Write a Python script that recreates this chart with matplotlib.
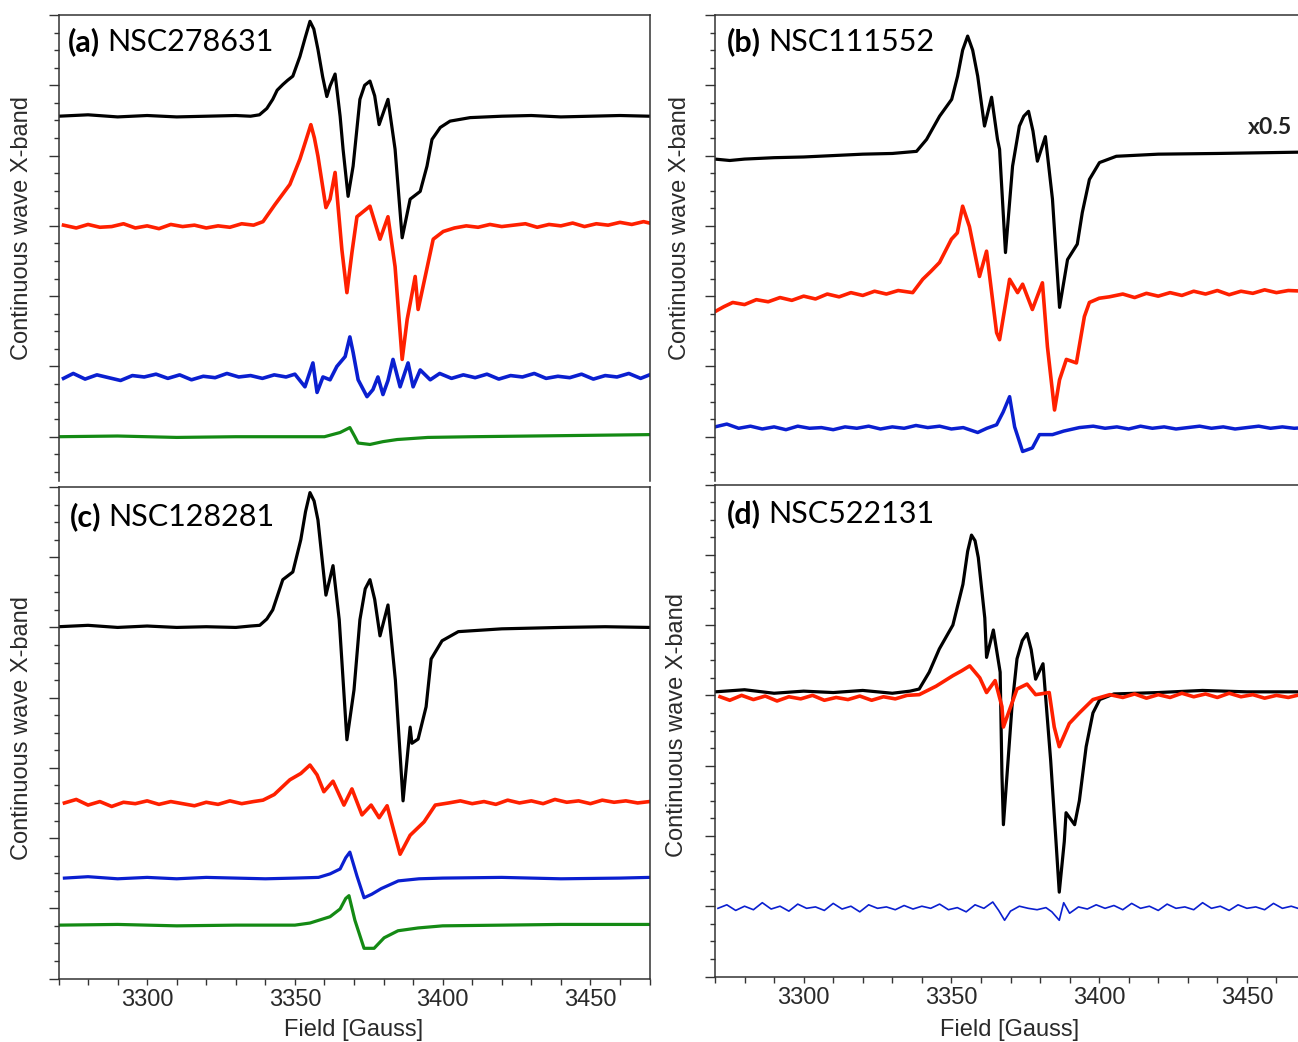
import numpy as np
import matplotlib
matplotlib.use("Agg")
import matplotlib.pyplot as plt
from matplotlib.ticker import MultipleLocator

W, H = 1298, 1042

# (field [G], signal) pairs; signal in units of one major y tick
a_black = [(3270, 4.56), (3280, 4.58), (3290, 4.55), (3300, 4.57), (3310, 4.55), (3320, 4.56),
           (3330, 4.57), (3335, 4.56), (3338, 4.58), (3340.5, 4.67), (3342.5, 4.80), (3344, 4.93),
           (3345.9, 5.01), (3347.5, 5.07), (3349.3, 5.13), (3351.7, 5.41), (3353.5, 5.68),
           (3355.1, 5.91), (3356.4, 5.80), (3357.8, 5.51), (3359.4, 5.12), (3360.8, 4.84),
           (3361.9, 4.99), (3363.6, 5.16), (3365.3, 4.56), (3366.3, 4.09), (3368.0, 3.42),
           (3369.7, 3.85), (3372.0, 4.80), (3373.6, 5.00), (3375.4, 5.06), (3377, 4.85), (3378.5, 4.44),
           (3381.5, 4.80), (3383.9, 4.09), (3386.3, 2.83), (3389.0, 3.38), (3392.4, 3.49), (3394.7, 3.85),
           (3396.4, 4.23), (3399.2, 4.40), (3402.5, 4.49), (3409.3, 4.54), (3420, 4.56), (3430, 4.57),
           (3440, 4.55), (3450, 4.56), (3460, 4.57), (3470, 4.56)]
a_red = [(3271.7, 3.01), (3276, 2.97), (3280, 3.02), (3284, 2.98), (3288, 2.99), (3292, 3.03),
         (3296, 2.97), (3300, 3.00), (3304, 2.96), (3308, 3.02), (3312, 2.99), (3316, 3.01),
         (3320, 2.97), (3324, 3.00), (3328, 2.98), (3332, 3.03), (3336, 3.01), (3339.2, 3.06),
         (3343.2, 3.30), (3348.3, 3.59), (3351.7, 3.95), (3353.6, 4.20), (3355.4, 4.44), (3356.6, 4.25),
         (3357.8, 3.99), (3360.5, 3.26), (3361.9, 3.38), (3363.6, 3.76), (3365.9, 2.66), (3367.6, 2.05),
         (3369.3, 2.62), (3371.0, 3.13), (3375.4, 3.28), (3378.8, 2.81), (3381.5, 3.13), (3383.9, 2.42),
         (3386.3, 1.10), (3388.0, 1.67), (3389.7, 2.05), (3390.7, 2.28), (3391.7, 1.81), (3394.1, 2.28),
         (3396.8, 2.81), (3400.2, 2.92), (3404, 2.97), (3408, 3.00), (3412, 2.98), (3416, 3.02),
         (3420, 2.99), (3424, 3.01), (3428, 3.03), (3432, 2.98), (3436, 3.02), (3440, 3.00),
         (3444, 3.04), (3448, 2.99), (3452, 3.03), (3456, 3.01), (3460, 3.05), (3464, 3.02),
         (3468, 3.06), (3470, 3.04)]
a_blue = [(3271.7, 0.83), (3275, 0.90), (3279, 0.82), (3283, 0.88), (3287, 0.84), (3291, 0.80),
          (3295, 0.87), (3299, 0.85), (3303, 0.89), (3307, 0.83), (3311, 0.88), (3315, 0.81),
          (3319, 0.86), (3323, 0.84), (3327, 0.90), (3331, 0.85), (3335, 0.87), (3339, 0.83),
          (3343, 0.88), (3347, 0.85), (3350, 0.89), (3353.4, 0.71), (3356.1, 1.05), (3357.5, 0.63),
          (3359.5, 0.85), (3361.9, 0.81), (3364.2, 1.00), (3367, 1.14), (3368.6, 1.42), (3369.7, 1.20),
          (3371.4, 0.81), (3374.4, 0.57), (3376.4, 0.67), (3378.1, 0.85), (3379.8, 0.60), (3381.5, 0.80),
          (3383.2, 1.10), (3385.6, 0.71), (3388.3, 1.05), (3390, 0.71), (3392.4, 0.95), (3395.8, 0.81),
          (3399, 0.90), (3403, 0.83), (3407, 0.88), (3411, 0.84), (3415, 0.89), (3419, 0.82),
          (3423, 0.87), (3427, 0.85), (3431, 0.90), (3435, 0.83), (3439, 0.86), (3443, 0.84),
          (3447, 0.89), (3451, 0.82), (3455, 0.87), (3459, 0.85), (3463, 0.90), (3467, 0.83), (3470, 0.88)]
a_green = [(3270, 0.00), (3290, 0.01), (3310, -0.01), (3330, 0.00), (3350, 0.00), (3360, 0.00),
           (3365.3, 0.06), (3368.6, 0.13), (3370.3, 0.00), (3371.4, -0.09), (3375.4, -0.11),
           (3379.8, -0.07), (3384.6, -0.04), (3395, -0.01), (3410, 0.00), (3430, 0.01),
           (3450, 0.02), (3470, 0.03)]

b_black = [(3270, 3.95), (3275, 3.93), (3280, 3.95), (3290, 3.97), (3300, 3.98), (3310, 4.00),
           (3320, 4.02), (3330, 4.03), (3338.2, 4.06), (3341.6, 4.23), (3346, 4.56), (3350.1, 4.80),
           (3352.1, 5.13), (3353.8, 5.50), (3355.5, 5.70), (3357.2, 5.50), (3358.9, 5.13), (3361.2, 4.42),
           (3363.6, 4.83), (3365.6, 4.23), (3366.3, 4.09), (3368.3, 2.62), (3370.7, 3.85), (3373, 4.42),
           (3374.5, 4.56), (3376.1, 4.63), (3377.6, 4.35), (3379.1, 3.92), (3381.8, 4.27), (3384.2, 3.38),
           (3386.6, 1.84), (3389.3, 2.52), (3392.6, 2.74), (3394.3, 3.19), (3396.7, 3.66), (3400.1, 3.90),
           (3405.8, 3.99), (3420, 4.02), (3440, 4.03), (3455, 4.04), (3470, 4.05)]
b_red = [(3270, 1.78), (3273, 1.85), (3276, 1.91), (3280, 1.88), (3284, 1.95), (3288, 1.92),
         (3292, 1.98), (3296, 1.94), (3300, 2.00), (3304, 1.96), (3308, 2.03), (3312, 1.99),
         (3316, 2.05), (3320, 2.01), (3324, 2.07), (3328, 2.03), (3332, 2.08), (3336.9, 2.05),
         (3340.3, 2.24), (3343, 2.35), (3346, 2.48), (3350, 2.81), (3352, 2.90), (3353.8, 3.28),
         (3356.1, 2.99), (3359.5, 2.28), (3361.9, 2.64), (3365.3, 1.48), (3366.3, 1.38), (3369.7, 2.24),
         (3372.4, 2.05), (3374.1, 2.17), (3377.4, 1.81), (3380.8, 2.19), (3382.5, 1.28), (3384.9, 0.38),
         (3386.6, 0.81), (3388.9, 1.10), (3392.3, 1.05), (3395, 1.71), (3396.7, 1.91), (3400, 1.97),
         (3403.4, 1.99), (3408, 2.03), (3412, 1.98), (3416, 2.04), (3420, 2.00), (3424, 2.05),
         (3428, 2.01), (3432, 2.07), (3436, 2.03), (3440, 2.08), (3444, 2.02), (3448, 2.07),
         (3452, 2.04), (3456, 2.09), (3460, 2.05), (3464, 2.08), (3470, 2.07)]
b_blue = [(3270, 0.14), (3274, 0.18), (3278, 0.12), (3282, 0.15), (3286, 0.11), (3290, 0.14),
          (3294, 0.10), (3298, 0.15), (3302, 0.12), (3306, 0.13), (3310, 0.10), (3314, 0.14),
          (3318, 0.12), (3322, 0.15), (3326, 0.11), (3330, 0.14), (3334, 0.12), (3338, 0.16),
          (3342, 0.13), (3346, 0.15), (3350, 0.11), (3354, 0.13), (3358.9, 0.06), (3362, 0.12),
          (3365.3, 0.17), (3367.5, 0.35), (3369.7, 0.57), (3371.4, 0.14), (3374.1, -0.21),
          (3377.4, -0.16), (3379.8, 0.03), (3384.2, 0.03), (3388, 0.08), (3393.3, 0.13), (3398, 0.15),
          (3402, 0.12), (3406, 0.14), (3410, 0.11), (3414, 0.15), (3418, 0.12), (3422, 0.14),
          (3426, 0.11), (3430, 0.13), (3434, 0.15), (3438, 0.12), (3442, 0.14), (3446, 0.11),
          (3450, 0.13), (3454, 0.15), (3458, 0.12), (3462, 0.14), (3466, 0.12), (3470, 0.13)]

c_black = [(3270, 5.01), (3280, 5.03), (3290, 5.00), (3300, 5.02), (3310, 5.00), (3320, 5.01),
           (3330, 5.00), (3335, 5.02), (3338.1, 5.03), (3340.5, 5.12), (3342.5, 5.25), (3345.9, 5.68),
           (3349.3, 5.79), (3352, 6.25), (3353.6, 6.65), (3355.1, 6.92), (3356.5, 6.80), (3357.8, 6.53),
           (3360.5, 5.46), (3362.9, 5.88), (3365, 5.11), (3367.6, 3.40), (3370, 4.11), (3372, 5.11),
           (3373.8, 5.55), (3375.4, 5.68), (3377, 5.40), (3378.8, 4.88), (3381.5, 5.32), (3384, 4.25),
           (3386.6, 2.53), (3389, 3.58), (3389.6, 3.35), (3391.7, 3.41), (3394.4, 3.87), (3396.1, 4.55),
           (3399.8, 4.81), (3405.3, 4.94), (3420, 4.98), (3440, 5.00), (3455, 5.01), (3470, 5.00)]
c_red = [(3272, 2.50), (3276, 2.55), (3280, 2.47), (3284, 2.52), (3288, 2.45), (3292, 2.51),
         (3296, 2.49), (3300, 2.53), (3304, 2.48), (3308, 2.52), (3312, 2.49), (3316, 2.46),
         (3320, 2.51), (3324, 2.48), (3328, 2.53), (3332, 2.49), (3336, 2.52), (3339.2, 2.54),
         (3343, 2.62), (3348.3, 2.83), (3352, 2.92), (3355.1, 3.04), (3357.5, 2.90), (3359.8, 2.66),
         (3362.9, 2.81), (3366.6, 2.47), (3369.3, 2.70), (3372.7, 2.33), (3375.8, 2.47), (3378.5, 2.29),
         (3381.2, 2.46), (3385.6, 1.77), (3389, 2.04), (3393.7, 2.23), (3397.5, 2.47), (3402, 2.50),
         (3406, 2.53), (3410, 2.49), (3414, 2.52), (3418, 2.48), (3422, 2.54), (3426, 2.50),
         (3430, 2.53), (3434, 2.49), (3438, 2.55), (3442, 2.51), (3446, 2.53), (3450, 2.49),
         (3454, 2.54), (3458, 2.51), (3462, 2.53), (3466, 2.50), (3470, 2.52)]
c_blue = [(3272, 1.43), (3280, 1.45), (3290, 1.42), (3300, 1.44), (3310, 1.42), (3320, 1.44),
          (3330, 1.43), (3340, 1.42), (3350, 1.43), (3358, 1.44), (3361.9, 1.49), (3365.3, 1.56),
          (3367.2, 1.72), (3368.6, 1.80), (3371, 1.46), (3373.4, 1.15), (3376, 1.20), (3379.2, 1.28),
          (3385, 1.39), (3392, 1.42), (3400, 1.43), (3420, 1.44), (3440, 1.42), (3460, 1.43), (3470, 1.44)]
c_green = [(3270, 0.76), (3290, 0.77), (3310, 0.75), (3330, 0.76), (3350, 0.76), (3355.1, 0.79),
           (3361.9, 0.88), (3365.3, 0.99), (3367.2, 1.14), (3368.3, 1.18), (3370.3, 0.83),
           (3373.4, 0.43), (3376.8, 0.43), (3380.2, 0.58), (3384.9, 0.68), (3391.7, 0.72),
           (3400, 0.75), (3420, 0.76), (3440, 0.77), (3470, 0.77)]

d_black = [(3270, 4.05), (3280, 4.08), (3290, 4.03), (3300, 4.06), (3310, 4.04), (3320, 4.07),
           (3330, 4.03), (3336, 4.06), (3339.1, 4.09), (3342.5, 4.33), (3345.9, 4.66), (3350.5, 5.00),
           (3353.9, 5.58), (3355.5, 6.05), (3356.8, 6.28), (3358, 6.20), (3359.1, 5.96), (3361.3, 5.10),
           (3361.9, 4.54), (3364.2, 4.93), (3366.5, 4.33), (3367.1, 2.88), (3367.6, 2.16), (3370.5, 3.84),
           (3372.2, 4.52), (3374, 4.78), (3375.6, 4.88), (3377, 4.65), (3378.5, 4.23), (3381.0, 4.45),
           (3383.6, 3.07), (3385.4, 1.92), (3386.5, 1.20), (3388.2, 1.92), (3388.8, 2.33), (3391.7, 2.16),
           (3393.3, 2.50), (3395.6, 3.27), (3397.9, 3.75), (3400.2, 3.94), (3405, 4.02), (3420, 4.04),
           (3435, 4.07), (3450, 4.05), (3470, 4.05)]
d_red = [(3271.7, 3.98), (3275, 3.93), (3279, 4.00), (3283, 3.94), (3287, 3.99), (3291, 3.92),
         (3295, 3.98), (3299, 3.95), (3303, 4.00), (3307, 3.93), (3311, 3.97), (3315, 3.94),
         (3319, 3.99), (3323, 3.93), (3327, 3.98), (3331, 3.95), (3335, 4.00), (3339.1, 4.01),
         (3344.8, 4.13), (3350.5, 4.28), (3353.5, 4.35), (3356.2, 4.42), (3359.6, 4.25), (3361.9, 4.04),
         (3364.8, 4.21), (3367.1, 3.84), (3367.6, 3.55), (3370.5, 3.89), (3372.2, 4.09), (3375.6, 4.16),
         (3378.5, 4.01), (3383.1, 4.04), (3384.8, 3.55), (3386.5, 3.27), (3389.9, 3.60), (3393.3, 3.75),
         (3397.9, 3.94), (3403.6, 4.01), (3408, 3.97), (3412, 4.02), (3416, 3.96), (3420, 4.01),
         (3424, 3.97), (3428, 4.03), (3432, 3.98), (3436, 4.02), (3440, 3.97), (3444, 4.03),
         (3448, 3.98), (3452, 4.01), (3456, 3.96), (3460, 4.00), (3464, 3.97), (3468, 4.01), (3470, 3.99)]
d_blue = [(3271, 0.97), (3274, 1.02), (3277, 0.94), (3280, 1.00), (3283, 0.95), (3286, 1.05),
          (3289, 0.96), (3292, 1.00), (3295, 0.93), (3298, 1.03), (3301, 0.97), (3304, 0.99),
          (3307, 0.94), (3310, 1.04), (3313, 0.96), (3316, 1.00), (3319, 0.92), (3322, 1.02),
          (3325, 0.97), (3328, 0.99), (3331, 0.95), (3334, 1.01), (3337, 0.96), (3340, 1.00),
          (3343, 0.97), (3346, 1.03), (3349, 0.95), (3352, 0.98), (3355, 0.92), (3358, 1.02),
          (3361, 0.97), (3364, 1.06), (3366, 0.94), (3368, 0.80), (3370, 0.93), (3373, 1.00),
          (3376, 0.97), (3379, 0.95), (3382, 0.98), (3384, 0.92), (3386.5, 0.80), (3388, 1.05),
          (3390, 0.90), (3393, 0.99), (3396, 0.96), (3399, 1.02), (3402, 0.97), (3405, 1.01),
          (3408, 0.95), (3411, 1.04), (3414, 0.97), (3417, 1.00), (3420, 0.94), (3423, 1.03),
          (3426, 0.97), (3429, 0.99), (3432, 0.95), (3435, 1.05), (3438, 0.97), (3441, 1.00),
          (3444, 0.94), (3447, 1.02), (3450, 0.97), (3453, 0.99), (3456, 0.95), (3459, 1.04),
          (3462, 0.97), (3465, 1.00), (3468, 0.96), (3470, 1.01)]

BLACK, RED, BLUE, GREEN = "#000000", "#ff2000", "#0a1fd0", "#148a14"
AX = "#333333"


def box(l, t, r, b):
    return [l / W, 1 - b / H, (r - l) / W, (b - t) / H]


fig = plt.figure(figsize=(W / 100, H / 100), dpi=100)

panels = [
    ("(a)", "NSC278631", box(58.5, 15, 649.5, 481), (-0.63, 6.0), False, (68, 51),
     [(a_black, BLACK, 2.3), (a_red, RED, 2.6), (a_blue, BLUE, 2.6), (a_green, GREEN, 2.3)]),
    ("(b)", "NSC111552", box(715, 15, 1306, 481), (-0.63, 6.0), False, (727, 51),
     [(b_black, BLACK, 2.3), (b_red, RED, 2.6), (b_blue, BLUE, 2.5)]),
    ("(c)", "NSC128281", box(58.5, 487, 649.5, 978.5), (0, 7.0), True, (70, 526),
     [(c_black, BLACK, 2.3), (c_red, RED, 2.6), (c_blue, BLUE, 2.3), (c_green, GREEN, 2.3)]),
    ("(d)", "NSC522131", box(715, 484.5, 1306, 976.5), (0, 7.0), True, (727, 523),
     [(d_black, BLACK, 2.3), (d_red, RED, 2.6), (d_blue, BLUE, 1.2)]),
]

for tag, name, pos, ylim, bottom, tpos, traces in panels:
    ax = fig.add_axes(pos)
    for pts, col, lw in traces:
        g, v = np.array(pts).T
        ax.plot(g, v, color=col, lw=lw)
    ax.set_xlim(3270, 3470)
    ax.set_ylim(*ylim)
    ax.xaxis.set_major_locator(MultipleLocator(50))
    ax.xaxis.set_minor_locator(MultipleLocator(10))
    ax.yaxis.set_major_locator(MultipleLocator(1))
    ax.yaxis.set_minor_locator(MultipleLocator(0.25))
    for s in ax.spines.values():
        s.set_color(AX)
        s.set_linewidth(1.1)
    ax.tick_params(axis="y", which="major", length=7.2, width=1.0, color=AX, direction="out", labelleft=False)
    ax.tick_params(axis="y", which="minor", length=3.6, width=1.0, color=AX, direction="out")
    ax.tick_params(axis="x", which="both", length=4.3, width=1.0, color=AX, direction="out",
                   labelsize=17, labelcolor="#2a2a2a", pad=3)
    for lab in ax.get_xticklabels():
        lab.set_fontfamily("Liberation Sans")
    if not bottom:
        ax.spines["bottom"].set_visible(False)
        ax.tick_params(axis="x", which="both", bottom=False, labelbottom=False)
    t1 = ax.text(tpos[0] / W, 1 - tpos[1] / H, tag, transform=fig.transFigure, fontsize=22,
                 fontweight="bold", family="Lato", va="baseline", ha="left")
    ax.annotate(name, xy=(1, 0), xycoords=t1, xytext=(7, 0), textcoords="offset pixels",
                fontsize=22, family="Lato", va="bottom", ha="left", annotation_clip=False)

# axis titles
for x, y in [(22.5, 228), (680, 228), (22.5, 728), (677, 725)]:
    fig.text(x / W, 1 - y / H, "Continuous wave X-band", rotation=90, ha="center", va="center",
             fontsize=17, family="Liberation Sans", color="#2a2a2a")
for x in [354, 1010]:
    fig.text(x / W, 1 - 1030 / H, "Field [Gauss]", ha="center", va="center",
             fontsize=17, family="Liberation Sans", color="#2a2a2a")

fig.text(1270 / W, 1 - 128 / H, "x0.5", ha="center", va="center", fontsize=16.5,
         family="Lato", fontweight="bold", color="#222222")

fig.savefig("out.png", dpi=100)
